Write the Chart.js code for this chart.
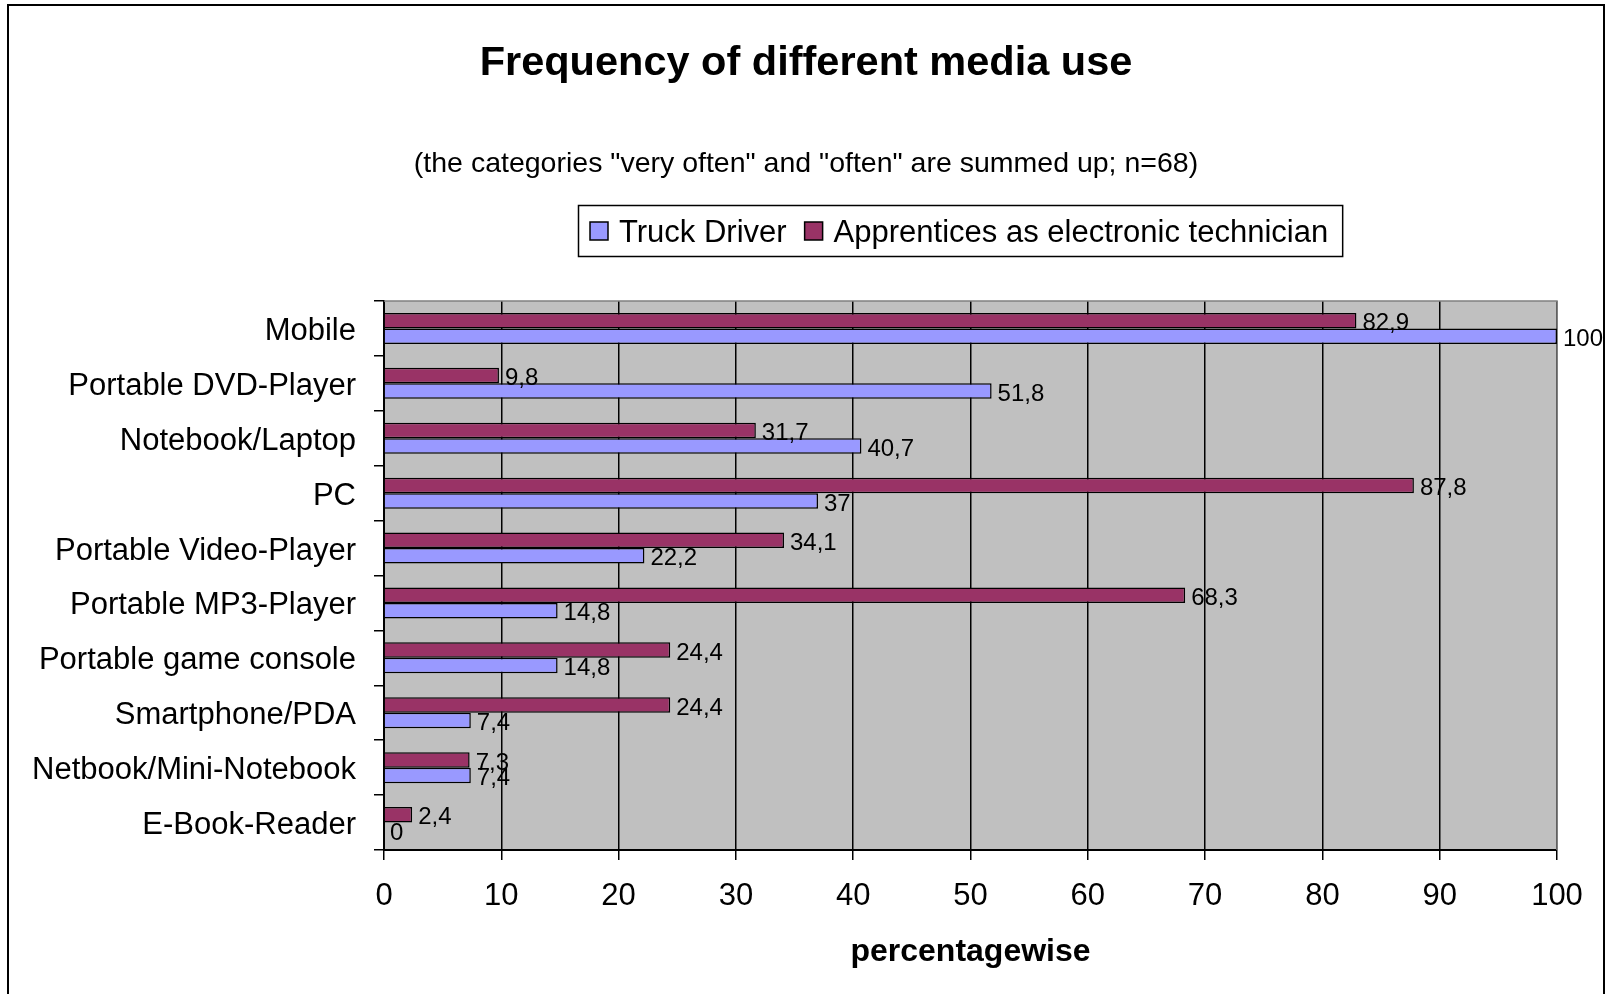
<!DOCTYPE html>
<html>
<head>
<meta charset="utf-8">
<title>Frequency of different media use</title>
<script src="https://cdn.jsdelivr.net/npm/chart.js@4/dist/chart.umd.min.js"></script>
<style>
  html, body { margin: 0; padding: 0; background: #fff; }
</style>
</head>
<body>
<canvas id="mediaChart" width="1606" height="994"></canvas>
<script>
const categories = [
  "Mobile", "Portable DVD-Player", "Notebook/Laptop", "PC", "Portable Video-Player",
  "Portable MP3-Player", "Portable game console", "Smartphone/PDA", "Netbook/Mini-Notebook", "E-Book-Reader"
];
const truckDriver = [100, 51.8, 40.7, 37, 22.2, 14.8, 14.8, 7.4, 7.4, 0];
const apprentices = [82.9, 9.8, 31.7, 87.8, 34.1, 68.3, 24.4, 24.4, 7.3, 2.4];
const xMin = 0, xMax = 100, xStep = 10;

const FONT = "'Liberation Sans', Arial, sans-serif";

// white page, grey plot area, outer frame
const backdrop = {
  id: 'backdrop',
  beforeDraw(chart) {
    const { ctx, chartArea: a } = chart;
    ctx.save();
    ctx.fillStyle = '#fff';
    ctx.fillRect(0, 0, chart.width, chart.height);
    ctx.fillStyle = '#c0c0c0';
    ctx.fillRect(a.left, a.top, a.right - a.left, a.bottom - a.top);
    ctx.strokeStyle = '#000';
    ctx.lineWidth = 2;
    ctx.strokeRect(8, 5, chart.width - 10, chart.height + 10);
    ctx.restore();
  },
  beforeDatasetsDraw(chart) {
    const { ctx, chartArea: a } = chart;
    ctx.save();
    ctx.strokeStyle = '#808080';
    ctx.lineWidth = 1.5;
    ctx.beginPath();
    ctx.moveTo(a.left, a.top);
    ctx.lineTo(a.right, a.top);
    ctx.lineTo(a.right, a.bottom);
    ctx.stroke();
    ctx.restore();
  }
};

// title, subtitle and boxed legend
const header = {
  id: 'header',
  afterDraw(chart) {
    const ctx = chart.ctx;
    ctx.save();
    ctx.fillStyle = '#000';
    ctx.textAlign = 'center';
    ctx.textBaseline = 'alphabetic';
    ctx.font = 'bold 41.5px ' + FONT;
    ctx.fillText('Frequency of different media use', 806, 75);
    ctx.font = '28.5px ' + FONT;
    ctx.fillText('(the categories "very often" and "often" are summed up; n=68)', 806, 172);

    // legend, Truck Driver first
    const items = chart.data.datasets.slice().reverse();
    ctx.font = '31px ' + FONT;
    ctx.textAlign = 'left';
    const sq = 18, padL = 12, padR = 14, gapText = 11, gapItem = 18;
    let total = padL + padR;
    items.forEach((d, i) => {
      total += sq + gapText + ctx.measureText(d.label).width + (i ? 0 : gapItem);
    });
    const top = 205, h = 51, cx = 960;
    let x = Math.round(cx - total / 2);
    ctx.strokeStyle = '#000';
    ctx.lineWidth = 1.5;
    ctx.strokeRect(x + 0.5, top + 0.5, total, h);
    x += padL;
    items.forEach(d => {
      ctx.fillStyle = d.backgroundColor;
      ctx.fillRect(x, top + 17, sq, sq);
      ctx.strokeRect(x, top + 17, sq, sq);
      x += sq + gapText;
      ctx.fillStyle = '#000';
      ctx.fillText(d.label, x, top + 37);
      x += ctx.measureText(d.label).width + gapItem;
    });
    ctx.restore();
  }
};

// value labels at the bar ends, decimal comma
const valueLabels = {
  id: 'valueLabels',
  afterDatasetsDraw(chart) {
    const ctx = chart.ctx;
    ctx.save();
    ctx.fillStyle = '#000';
    ctx.font = '24px ' + FONT;
    ctx.textAlign = 'left';
    ctx.textBaseline = 'middle';
    chart.data.datasets.forEach((ds, di) => {
      chart.getDatasetMeta(di).data.forEach((bar, i) => {
        const txt = String(ds.data[i]).replace('.', ',');
        ctx.fillText(txt, bar.x + 6, bar.y + 3);
      });
    });
    ctx.restore();
  }
};

new Chart(document.getElementById('mediaChart'), {
  type: 'bar',
  data: {
    labels: categories,
    datasets: [
      {
        label: 'Apprentices as electronic technician',
        data: apprentices,
        backgroundColor: '#993366',
        borderColor: '#000',
        borderWidth: 1.5,
        categoryPercentage: 0.565,
        barPercentage: 1.0
      },
      {
        label: 'Truck Driver',
        data: truckDriver,
        backgroundColor: '#9999ff',
        borderColor: '#000',
        borderWidth: 1.5,
        categoryPercentage: 0.565,
        barPercentage: 1.0
      }
    ]
  },
  options: {
    indexAxis: 'y',
    responsive: false,
    animation: false,
    layout: { padding: { top: 301, right: 49, left: 0, bottom: 0 } },
    plugins: {
      legend: { display: false },
      title: { display: false },
      tooltip: { enabled: false }
    },
    scales: {
      x: {
        min: xMin,
        max: xMax,
        ticks: { stepSize: xStep, color: '#000', font: { family: FONT, size: 31 }, padding: 18 },
        grid: { color: '#000', lineWidth: 1.5, tickLength: 10 },
        border: { color: '#000', width: 2 },
        title: {
          display: true,
          text: 'percentagewise',
          color: '#000',
          font: { family: FONT, size: 32, weight: 'bold' },
          padding: { top: 10, bottom: 23 }
        },
        afterFit(scale) { scale.height = 144; }
      },
      y: {
        ticks: { color: '#000', font: { family: FONT, size: 31 }, padding: 18, labelOffset: 3 },
        grid: { offset: true, drawOnChartArea: false, color: '#000', lineWidth: 1.5, tickLength: 10 },
        border: { color: '#000', width: 2 },
        afterFit(scale) { scale.width = 384; }
      }
    }
  },
  plugins: [backdrop, header, valueLabels]
});
</script>
</body>
</html>
